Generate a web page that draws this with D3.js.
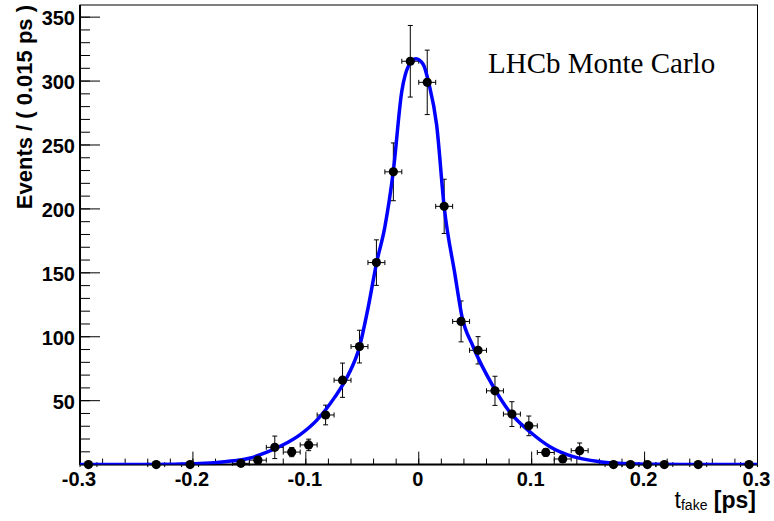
<!DOCTYPE html>
<html>
  <head>
    <meta charset="utf-8">
    <title>t fake fit</title>
    <script src="https://d3js.org/d3.v7.min.js"></script>
    <style>
      body { margin: 0; background: #fff; }
      svg { display: block; }
      .lbl { font-family: "Liberation Sans", Arial, Helvetica, sans-serif; font-weight: bold; }
    </style>
  </head>
  <body>
    <svg></svg>

    <script>
      // bin centres (0.015 ps bins) that have a drawn point
      const binCenters = [-0.2925, -0.2325, -0.2025, -0.1575, -0.1425, -0.1275, -0.1125, -0.0975,
        -0.0825, -0.0675, -0.0525, -0.0375, -0.0225, -0.0075, 0.0075, 0.0225, 0.0375, 0.0525,
        0.0675, 0.0825, 0.0975, 0.1125, 0.1275, 0.1425, 0.1725, 0.1875, 0.2025, 0.2175, 0.2475, 0.2925]
      const events = [0, 0, 0, 1, 3.5, 13.5, 9.8, 15.4,
        38.8, 66, 92.3, 158, 229, 315.5, 299, 202, 112, 89.4,
        57.7, 39.5, 30.3, 9.5, 4.4, 10.9, 0, 0, 0, 0, 0, 0]
      const errors = [0, 0, 0, 1, 2, 8.8, 3.6, 4.5,
        7.7, 13.4, 12.8, 17.8, 22.6, 28, 25.2, 21.2, 16, 10.7,
        11.4, 9.7, 7.7, 3, 2, 6, 0, 0, 0, 0, 0, 0]
      const binHalfWidth = 0.0075

      // fit curve
      const fitT = [-0.30, -0.24, -0.21, -0.19, -0.17, -0.15, -0.135, -0.12, -0.105, -0.09, -0.075,
        -0.0625, -0.0525, -0.045, -0.0373, -0.030, -0.0226, -0.015, -0.009, -0.0025, 0.004, 0.009,
        0.0158, 0.0226, 0.032, 0.038, 0.0483, 0.066, 0.0807, 0.10, 0.1162, 0.1368, 0.16, 0.18, 0.21, 0.25, 0.30]
      const fitY = [0, 0.1, 0.4, 1.0, 2.4, 5.0, 9.5, 15.5, 23.5, 35, 52,
        70, 92, 122, 158, 186, 229, 292, 312, 317.5, 313, 298,
        266, 201, 149, 117, 92, 61, 41, 24.5, 14, 6.2, 2.3, 0.9, 0.2, 0.05, 0]

      const xMajor = [-0.3, -0.2, -0.1, 0, 0.1, 0.2, 0.3]
      const xLabels = ['-0.3', '-0.2', '-0.1', '0', '0.1', '0.2', '0.3']
      const yMajor = [50, 100, 150, 200, 250, 300, 350]

      const W = 774, H = 521
      const svg = d3.select('svg').attr('width', W).attr('height', H)

      const x = d3.scaleLinear().domain([-0.3, 0.3]).range([80, 757.5])
      const y = d3.scaleLinear().domain([0, 359.5]).range([464.6, 5])

      // frame
      svg.append('rect')
        .attr('x', x(-0.3)).attr('y', y(359.5))
        .attr('width', x(0.3) - x(-0.3)).attr('height', y(0) - y(359.5))
        .attr('fill', 'none').attr('stroke', '#000').attr('stroke-width', 1)

      svg.append('defs').append('clipPath').attr('id', 'clip')
        .append('rect')
          .attr('x', x(-0.3)).attr('y', y(359.5))
          .attr('width', x(0.3) - x(-0.3)).attr('height', y(0) - y(359.5))

      // x ticks (inside, pointing up)
      const xMinor = d3.range(-15, 16).map(i => i * 0.02)
      svg.append('g').selectAll('line')
        .data(xMinor)
        .join('line')
          .attr('x1', d => x(d)).attr('x2', d => x(d))
          .attr('y1', y(0)).attr('y2', y(0) - 6)
          .attr('stroke', '#000')
      svg.append('g').selectAll('line')
        .data(xMajor)
        .join('line')
          .attr('x1', d => x(d)).attr('x2', d => x(d))
          .attr('y1', y(0)).attr('y2', y(0) - 13)
          .attr('stroke', '#000')
      svg.append('g').selectAll('text')
        .data(xMajor)
        .join('text')
          .attr('class', 'lbl')
          .attr('x', d => x(d) - 1)
          .attr('y', 486)
          .attr('text-anchor', 'middle')
          .attr('font-size', 20)
          .text((d, i) => xLabels[i])

      // y ticks (inside, pointing right)
      const yMinor = d3.range(10, 360, 10)
      svg.append('g').selectAll('line')
        .data(yMinor)
        .join('line')
          .attr('x1', x(-0.3)).attr('x2', x(-0.3) + 10)
          .attr('y1', d => y(d)).attr('y2', d => y(d))
          .attr('stroke', '#000')
      svg.append('g').selectAll('line')
        .data(yMajor)
        .join('line')
          .attr('x1', x(-0.3)).attr('x2', x(-0.3) + 20)
          .attr('y1', d => y(d)).attr('y2', d => y(d))
          .attr('stroke', '#000')
      svg.append('g').selectAll('text')
        .data(yMajor)
        .join('text')
          .attr('class', 'lbl')
          .attr('x', 75)
          .attr('y', d => y(d) + 8)
          .attr('text-anchor', 'end')
          .attr('font-size', 20)
          .text(d => d)

      // thicker left / bottom axis lines
      svg.append('line')
        .attr('x1', x(-0.3)).attr('x2', x(-0.3)).attr('y1', y(359.5)).attr('y2', y(0))
        .attr('stroke', '#000').attr('stroke-width', 2)
      svg.append('line')
        .attr('x1', x(-0.3)).attr('x2', x(0.3)).attr('y1', y(0)).attr('y2', y(0))
        .attr('stroke', '#000').attr('stroke-width', 2)

      // axis titles
      svg.append('text')
        .attr('class', 'lbl')
        .attr('transform', 'translate(32, 5) rotate(-90)')
        .attr('text-anchor', 'end')
        .attr('font-size', 22)
        .text('Events / ( 0.015 ps )')

      const xt = svg.append('text')
        .attr('class', 'lbl')
        .attr('x', 756)
        .attr('y', 508)
        .attr('text-anchor', 'end')
        .attr('font-size', 23)
      xt.append('tspan').attr('font-weight', 'normal').text('t')
      xt.append('tspan').attr('font-weight', 'normal').attr('font-size', 14).attr('dy', 2).text('fake')
      xt.append('tspan').attr('dy', -2).text(' [ps]')

      // data points
      const pts = binCenters.map((c, i) => ({ c, v: events[i], e: errors[i] }))
      const gp = svg.append('g').attr('stroke', '#000').attr('stroke-width', 1)

      gp.selectAll('.hbar')
        .data(pts)
        .join('line')
          .attr('x1', d => x(d.c - binHalfWidth)).attr('x2', d => x(d.c + binHalfWidth))
          .attr('y1', d => y(d.v)).attr('y2', d => y(d.v))
      gp.selectAll('.hcap')
        .data(pts.flatMap(d => [{ c: d.c - binHalfWidth, v: d.v }, { c: d.c + binHalfWidth, v: d.v }]))
        .join('line')
          .attr('x1', d => x(d.c)).attr('x2', d => x(d.c))
          .attr('y1', d => y(d.v) - 2.5).attr('y2', d => y(d.v) + 2.5)
      const withErr = pts.filter(d => d.e > 0)
      gp.selectAll('.vbar')
        .data(withErr)
        .join('line')
          .attr('x1', d => x(d.c)).attr('x2', d => x(d.c))
          .attr('y1', d => y(d.v - d.e)).attr('y2', d => y(d.v + d.e))
      gp.selectAll('.vcap')
        .data(withErr.flatMap(d => [{ c: d.c, v: d.v - d.e }, { c: d.c, v: d.v + d.e }]))
        .join('line')
          .attr('x1', d => x(d.c) - 2.5).attr('x2', d => x(d.c) + 2.5)
          .attr('y1', d => y(d.v)).attr('y2', d => y(d.v))

      // fit curve
      const line = d3.line()
        .x((d, i) => x(fitT[i]))
        .y(d => y(d))
        .curve(d3.curveMonotoneX)
      svg.append('path')
        .datum(fitY)
        .attr('clip-path', 'url(#clip)')
        .attr('d', line)
        .attr('fill', 'none')
        .attr('stroke', '#0000ff')
        .attr('stroke-width', 3.5)

      svg.append('g').selectAll('circle')
        .data(pts)
        .join('circle')
          .attr('cx', d => x(d.c))
          .attr('cy', d => y(d.v))
          .attr('r', 4.6)
          .attr('fill', '#000')

      // label
      svg.append('text')
        .attr('x', 488)
        .attr('y', 73)
        .attr('font-family', '"Liberation Serif", "Times New Roman", serif')
        .attr('font-size', 29)
        .text('LHCb Monte Carlo')
    </script>
  </body>
</html>
